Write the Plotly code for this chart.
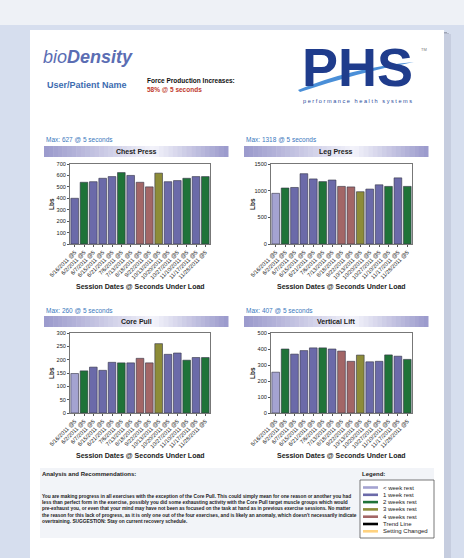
import plotly.graph_objects as go

W, H = 464, 558

dates = ["5/16/2011", "6/2/2011", "6/7/2011", "6/15/2011", "6/21/2011", "7/6/2011",
         "7/13/2011", "8/18/2011", "9/22/2011", "10/13/2011", "10/20/2011",
         "10/27/2011", "11/10/2011", "11/17/2011", "11/28/2011"]
tick_labels = [d + " @5" for d in dates]

chest_press = [400, 540, 545, 575, 590, 625, 600, 540, 500, 620, 545, 555, 575, 590, 590]
leg_press = [950, 1050, 1060, 1318, 1220, 1170, 1200, 1080, 1070, 980, 1030, 1110, 1080, 1240, 1080]
core_pull = [148, 158, 172, 160, 190, 188, 188, 205, 188, 260, 220, 225, 198, 208, 208]
vertical_lift = [255, 400, 368, 390, 407, 407, 400, 387, 323, 362, 320, 323, 363, 355, 335]

rest_chest = [1, 2, 1, 1, 1, 2, 1, 4, 4, 3, 1, 1, 2, 1, 2]
rest_other = [0, 2, 1, 1, 1, 2, 1, 4, 4, 3, 1, 1, 2, 1, 2]

legend_labels = ["< week rest", "1 week rest", "2 weeks rest", "3 weeks rest",
                 "4 weeks rest", "Trend Line", "Setting Changed"]
legend_colors = ["#a4a3d1", "#6b6aa9", "#1f7338", "#8d8c38", "#a36666", "#000000", "#ffd27f"]
rest_colors = legend_colors[:5]

FONT = "Liberation Sans, Arial, sans-serif"


def px(x):
    return x / W


def py(y):
    return 1 - y / H


fig = go.Figure()
shapes = []
ann = []

# Background / page
shapes.append(dict(type="rect", xref="paper", yref="paper", x0=0, x1=1, y0=py(25), y1=1,
                   fillcolor="#eef1f6", line_width=0, layer="below"))
shapes.append(dict(type="rect", xref="paper", yref="paper", x0=0, x1=1, y0=0, y1=py(25),
                   fillcolor="#d6deee", line_width=0, layer="below"))
for i, c in enumerate(["#9ea4b4", "#b3b9ca", "#c6cddf"]):
    shapes.append(dict(type="rect", xref="paper", yref="paper", x0=px(31), x1=px(447 + 2 * i),
                       y0=0, y1=py(32 + i), fillcolor=c, line_width=0, layer="below"))
shapes.append(dict(type="rect", xref="paper", yref="paper", x0=px(30), x1=px(444),
                   y0=0, y1=py(30), fillcolor="#ffffff", line_width=0, layer="below"))

# Header texts
ann.append(dict(x=px(41), y=py(57), xref="paper", yref="paper", xanchor="left", yanchor="middle",
                text="<i><span style='font-weight:normal'>bio</span><b>Density</b></i>",
                font=dict(family=FONT, size=18, color="#5b6db3"), showarrow=False))
ann.append(dict(x=px(45), y=py(85), xref="paper", yref="paper", xanchor="left", yanchor="middle",
                text="<b>User/Patient Name</b>", font=dict(family=FONT, size=9, color="#3d6bb0"),
                showarrow=False))
ann.append(dict(x=px(145), y=py(80), xref="paper", yref="paper", xanchor="left", yanchor="middle",
                text="<b>Force Production Increases:</b>", font=dict(family=FONT, size=6.5, color="#111111"),
                showarrow=False))
ann.append(dict(x=px(145), y=py(90), xref="paper", yref="paper", xanchor="left", yanchor="middle",
                text="<b>58% @ 5 seconds</b>", font=dict(family=FONT, size=6.5, color="#c0392b"),
                showarrow=False))
# PHS logo
ann.append(dict(x=px(357), y=py(67), xref="paper", yref="paper", xanchor="center", yanchor="middle",
                text="<b>PHS</b>", font=dict(family=FONT, size=54, color="#1f3c8c"), showarrow=False))
shapes.append(dict(type="path", xref="paper", yref="paper",
                   path=f"M {px(298)},{py(90)} Q {px(350)},{py(68)} {px(414)},{py(62)} "
                        f"Q {px(360)},{py(72)} {px(300)},{py(92)} Z",
                   fillcolor="#4a8fd8", line_width=0))
ann.append(dict(x=px(419), y=py(50), xref="paper", yref="paper", xanchor="left", yanchor="middle",
                text="TM", font=dict(family=FONT, size=4, color="#777777"), showarrow=False))
ann.append(dict(x=px(357), y=py(101), xref="paper", yref="paper", xanchor="center", yanchor="middle",
                text="p e r f o r m a n c e   h e a l t h   s y s t e m s",
                font=dict(family=FONT, size=5.6, color="#2a4a9a"), showarrow=False))

charts = [
    ("Chest Press", chest_press, rest_chest, 627, [0, 700], 100, (70, 210), (164, 244), (44, 228), 140),
    ("Leg Press", leg_press, rest_other, 1318, [0, 1500], 500, (271, 412), (164, 244), (244, 428), 140),
    ("Core Pull", core_pull, rest_other, 260, [0, 300], 50, (70, 210), (333, 413), (44, 228), 310),
    ("Vertical Lift", vertical_lift, rest_other, 407, [0, 500], 100, (271, 412), (333, 413), (244, 428), 310),
]

layout_axes = {}
for i, (name, vals, rest, mx, yr, dt, xd, yd, bar, maxy) in enumerate(charts):
    k = "" if i == 0 else str(i + 1)
    fig.add_trace(go.Bar(x=tick_labels, y=vals, xaxis="x" + k, yaxis="y" + k,
                         marker=dict(color=[rest_colors[r] for r in rest],
                                     line=dict(color="#333344", width=0.6)),
                         showlegend=False))
    layout_axes["xaxis" + k] = dict(domain=[px(xd[0]), px(xd[1])], anchor="y" + k, automargin=False,
                                    tickangle=-45, tickfont=dict(family=FONT, size=5.6, color="#222"),
                                    showline=True, linecolor="#777", linewidth=1, mirror=True,
                                    ticks="outside", ticklen=2, tickcolor="#555", showgrid=False)
    layout_axes["yaxis" + k] = dict(domain=[py(yd[1]), py(yd[0])], anchor="x" + k, range=yr,
                                    automargin=False,
                                    dtick=dt, tickfont=dict(family=FONT, size=5.6, color="#222"),
                                    showline=True, linecolor="#777", linewidth=1, mirror=True,
                                    ticks="outside", ticklen=2, tickcolor="#555", showgrid=False,
                                    zeroline=False)
    # Max label
    ann.append(dict(x=px(bar[0]), y=py(maxy), xref="paper", yref="paper", xanchor="left",
                    yanchor="middle", text=f"Max: {mx} @ 5 seconds",
                    font=dict(family=FONT, size=6.5, color="#3a78bd"), showarrow=False))
    # Title bar gradient
    n = 40
    for j in range(n):
        t = j / (n - 1)
        d = abs(t - 0.6) / 0.6 if t < 0.6 else abs(t - 0.6) / 0.4
        d = min(1, d)
        c0 = (0x9c, 0x9b, 0xcd)
        c1 = (0xf4, 0xf4, 0xfb)
        col = tuple(int(c1[m] + (c0[m] - c1[m]) * d) for m in range(3))
        x0 = bar[0] + (bar[1] - bar[0]) * j / n
        x1 = bar[0] + (bar[1] - bar[0]) * (j + 1) / n + 0.5
        shapes.append(dict(type="rect", xref="paper", yref="paper", x0=px(x0), x1=px(x1),
                           y0=py(maxy + 17), y1=py(maxy + 6), fillcolor="rgb(%d,%d,%d)" % col,
                           line_width=0, layer="below"))
    ann.append(dict(x=px((bar[0] + bar[1]) / 2), y=py(maxy + 11.5), xref="paper", yref="paper",
                    xanchor="center", yanchor="middle", text=f"<b>{name}</b>",
                    font=dict(family=FONT, size=7, color="#222"), showarrow=False))
    # Axis titles
    ann.append(dict(x=px((xd[0] + xd[1]) / 2), y=py(yd[1] + 42), xref="paper", yref="paper",
                    xanchor="center", yanchor="middle", text="<b>Session Dates @ Seconds Under Load</b>",
                    font=dict(family=FONT, size=7, color="#222"), showarrow=False))
    ann.append(dict(x=px(xd[0] - 19), y=py((yd[0] + yd[1]) / 2), xref="paper", yref="paper",
                    xanchor="center", yanchor="middle", text="<b>Lbs</b>", textangle=-90,
                    font=dict(family=FONT, size=6.5, color="#222"), showarrow=False))

# Analysis section
shapes.append(dict(type="rect", xref="paper", yref="paper", x0=px(40), x1=px(434),
                   y0=py(538), y1=py(468), fillcolor="#f2f4f8", line_width=0, layer="below"))
ann.append(dict(x=px(40), y=py(474), xref="paper", yref="paper", xanchor="left", yanchor="middle",
                text="<b>Analysis and Recommendations:</b>", font=dict(family=FONT, size=6, color="#222"),
                showarrow=False))
ann.append(dict(x=px(360), y=py(474), xref="paper", yref="paper", xanchor="left", yanchor="middle",
                text="<b>Legend:</b>", font=dict(family=FONT, size=6, color="#222"), showarrow=False))

para = ("You are making progress in all exercises with the exception of the Core Pull. This could simply mean for one reason or another you had<br>"
        "less than perfect form in the exercise, possibly you did some exhausting activity with the Core Pull target muscle groups which would<br>"
        "pre-exhaust you, or even that your mind may have not been as focused on the task at hand as in previous exercise sessions. No matter<br>"
        "the reason for this lack of progress, as it is only one out of the four exercises, and is likely an anomaly, which doesn't necessarily indicate<br>"
        "overtraining. SUGGESTION: Stay on current recovery schedule.")
ann.append(dict(x=px(40), y=py(492), xref="paper", yref="paper", xanchor="left", yanchor="top",
                align="left", text="<b>" + para + "</b>",
                font=dict(family=FONT, size=4.8, color="#222"), showarrow=False))

# Legend box
shapes.append(dict(type="rect", xref="paper", yref="paper", x0=px(360), x1=px(434),
                   y0=py(538), y1=py(480), fillcolor="#ffffff", line=dict(color="#555", width=0.8)))
for i, (lab, col) in enumerate(zip(legend_labels, legend_colors)):
    yy = 487.5 + i * 7.3
    shapes.append(dict(type="line", xref="paper", yref="paper", x0=px(363), x1=px(378),
                       y0=py(yy), y1=py(yy), line=dict(color=col, width=2.6)))
    ann.append(dict(x=px(381), y=py(yy), xref="paper", yref="paper", xanchor="left", yanchor="middle",
                    text=lab, font=dict(family=FONT, size=6, color="#222"), showarrow=False))

fig.update_layout(width=W, height=H, margin=dict(l=0, r=0, t=0, b=0, pad=0, autoexpand=False),
                  paper_bgcolor="#d6deee", plot_bgcolor="#ffffff",
                  bargap=0.18, shapes=shapes, annotations=ann, showlegend=False,
                  **layout_axes)

fig.write_html("out.html", config={"displayModeBar": False},
               post_script="document.body.style.margin='0';document.body.style.overflow='hidden';")
